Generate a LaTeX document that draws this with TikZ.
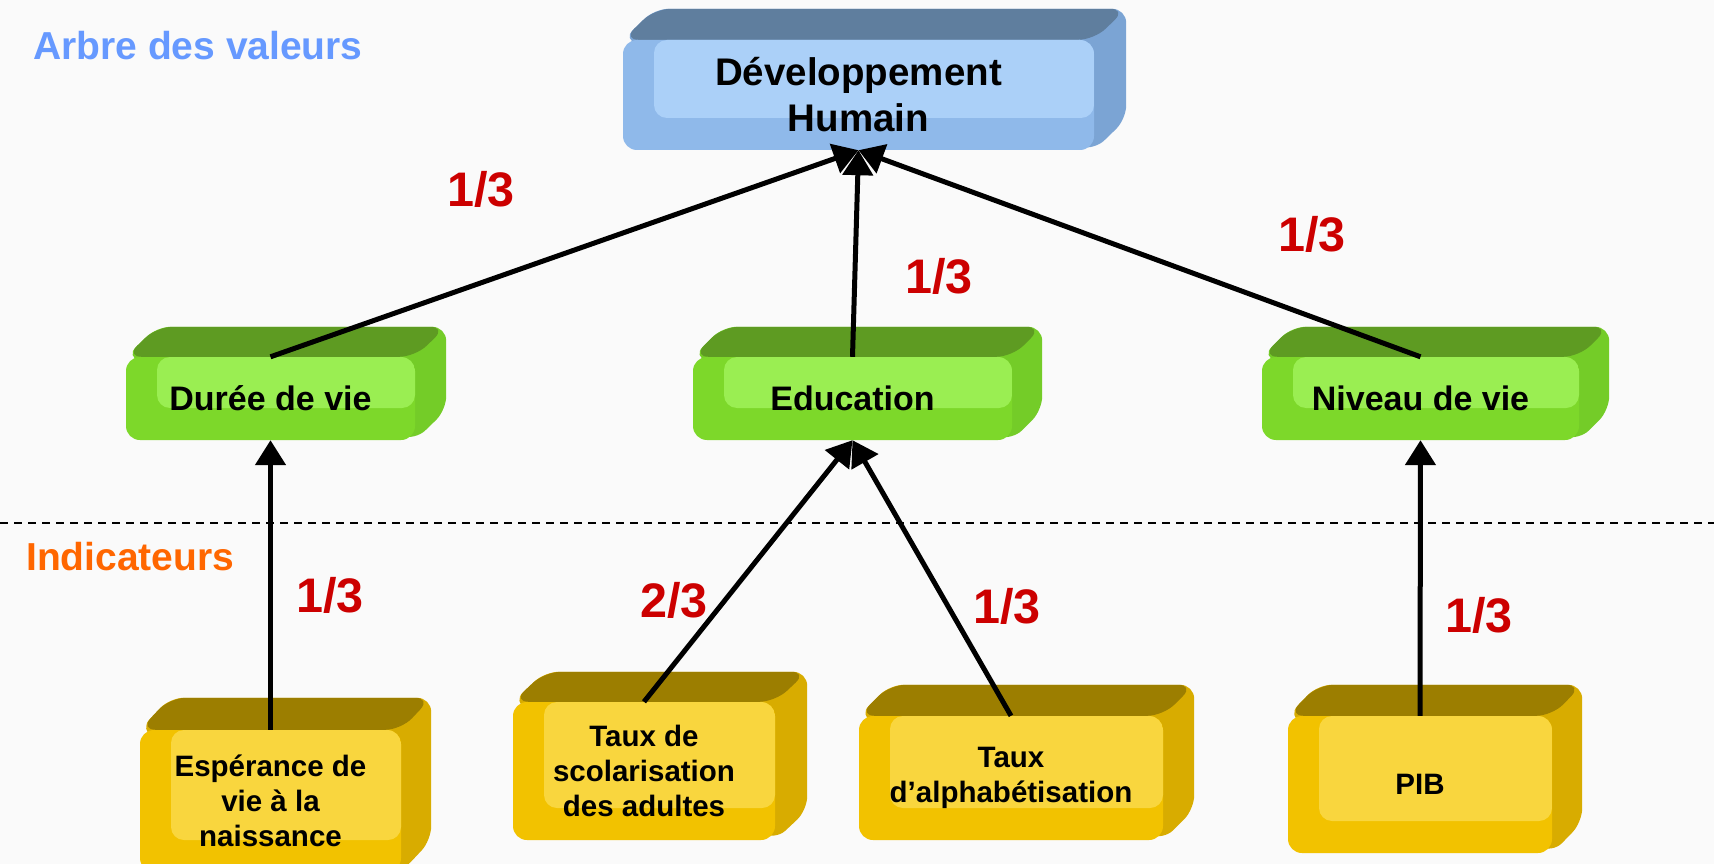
\documentclass[tikz,border=0pt]{standalone}
\usepackage{fontspec}
\setmainfont{Liberation Sans}
\usetikzlibrary{arrows.meta,calc}
\pgfdeclarelayer{bgpage}
\pgfdeclarelayer{faces}
\pgfsetlayers{bgpage,faces,main}

\definecolor{pagebg}{HTML}{FAFAFA}
\definecolor{blueF}{HTML}{8FB9EA}
\definecolor{blueH}{HTML}{ABD0F8}
\definecolor{blueT}{HTML}{5F7E9E}
\definecolor{blueS}{HTML}{7BA4D4}
\definecolor{greenF}{HTML}{7DD82A}
\definecolor{greenH}{HTML}{9AEE52}
\definecolor{greenT}{HTML}{5E9B22}
\definecolor{greenS}{HTML}{74CC28}
\definecolor{yelF}{HTML}{F2C200}
\definecolor{yelH}{HTML}{F9D63E}
\definecolor{yelT}{HTML}{9C7E00}
\definecolor{yelS}{HTML}{D8AC00}
\definecolor{ratiored}{HTML}{CC0000}
\definecolor{titleblue}{HTML}{6699FF}
\definecolor{titleorange}{HTML}{FF6600}

\newcommand\boxfaces[4]{%
  \begin{pgfonlayer}{faces}
    \fill[#3, rounded corners=14pt] (#1.north west) -- ($(#1.north west)+(#4)$) -- ($(#1.north east)+(#4)$) -- ($(#1.south east)+(#4)$) -- (#1.south east) -- cycle;
    \fill[#2, rounded corners=16pt] (#1.north west) -- ($(#1.north west)+(#4)$) -- ($(#1.north east)+(#4)$) -- (#1.north east) -- cycle;
  \end{pgfonlayer}}

\tikzset{
  face/.style={rounded corners=14pt, inner sep=0pt, align=center, text=black},
  hl/.style={path picture={\fill[#1, rounded corners=13pt] ([xshift=31pt]path picture bounding box.north west) rectangle ([yshift=32pt]path picture bounding box.south east);}},
  bluebox/.style={face, fill=blueF, hl=blueH, font=\fontsize{38.5pt}{46pt}\selectfont\bfseries},
  greenbox/.style={face, fill=greenF, hl=greenH, minimum height=83pt, font=\fontsize{34pt}{40pt}\selectfont\bfseries},
  yelbox/.style={face, fill=yelF, hl=yelH, font=\fontsize{29.5pt}{35pt}\selectfont\bfseries},
  arr/.style={line width=5pt, -{Triangle[length=25pt,width=30pt]}},
  ratiolbl/.style={anchor=base, inner sep=0pt, text=ratiored, font=\fontsize{48.5pt}{52pt}\selectfont\bfseries},
  titlelbl/.style={anchor=base west, inner sep=0pt, font=\fontsize{39pt}{44pt}\selectfont\bfseries},
  sepline/.style={line width=1.5pt, dash pattern=on 8pt off 6pt}
}

\begin{document}
\begin{tikzpicture}[x=1pt,y=-1pt]
\useasboundingbox (0,0) rectangle (1714,864);
\begin{pgfonlayer}{bgpage}
  \fill[pagebg] (0,0) rectangle (1714,864);
\end{pgfonlayer}

% separator
\coordinate (sepL) at (0,523);
\coordinate (sepR) at (1714,523);
\draw[sepline] (sepL) -- (sepR);

% titles
\node[titlelbl, text=titleblue] (tval) at (33,60) {Arbre des valeurs};
\node[titlelbl, text=titleorange] (tind) at (26,570) {Indicateurs};

% top box
\node[bluebox, minimum width=471pt, minimum height=110pt] (dh) at (858.5,95) {Développement\\Humain};
\boxfaces{dh}{blueT}{blueS}{32,-31}

% middle boxes
\node[greenbox, minimum width=289pt] (duree) at (270.5,398.5) {Durée de vie};
\boxfaces{duree}{greenT}{greenS}{31,-30}
\node[greenbox, minimum width=319pt] (edu) at (852.5,398.5) {Education};
\boxfaces{edu}{greenT}{greenS}{30,-30}
\node[greenbox, minimum width=317pt] (niv) at (1420.5,398.5) {Niveau de vie};
\boxfaces{niv}{greenT}{greenS}{30,-30}

% bottom boxes
\node[yelbox, minimum width=261pt, minimum height=142pt] (esp) at (270.5,801) {Espérance de\\vie à la\\naissance};
\boxfaces{esp}{yelT}{yelS}{30,-32}
\node[yelbox, minimum width=262pt, minimum height=138pt] (scol) at (644,771) {Taux de\\scolarisation\\des adultes};
\boxfaces{scol}{yelT}{yelS}{32,-30}
\node[yelbox, minimum width=304pt, minimum height=124pt] (alpha) at (1011,778) {Taux\\d’alphabétisation};
\boxfaces{alpha}{yelT}{yelS}{31,-31}
\node[yelbox, minimum width=264pt, minimum height=137pt] (pib) at (1420,784.5) {PIB};
\boxfaces{pib}{yelT}{yelS}{30,-31}

% connectors
\draw[arr] (duree.north) -- (dh.south);
\draw[arr] (edu.north) -- (dh.south);
\draw[arr] (niv.north) -- (dh.south);
\draw[arr] (esp.north) -- (duree.south);
\draw[arr] (scol.north) -- (edu.south);
\draw[arr] (alpha.north) -- (edu.south);
\draw[arr] (pib.north) -- (niv.south);

% weights
\node[ratiolbl] (w1) at (481,207) {1/3};
\node[ratiolbl] (w2) at (939,293) {1/3};
\node[ratiolbl] (w3) at (1312,251) {1/3};
\node[ratiolbl] (w4) at (330,612) {1/3};
\node[ratiolbl] (w5) at (674,617) {2/3};
\node[ratiolbl] (w6) at (1007,623) {1/3};
\node[ratiolbl] (w7) at (1479,632) {1/3};
\end{tikzpicture}
\end{document}
